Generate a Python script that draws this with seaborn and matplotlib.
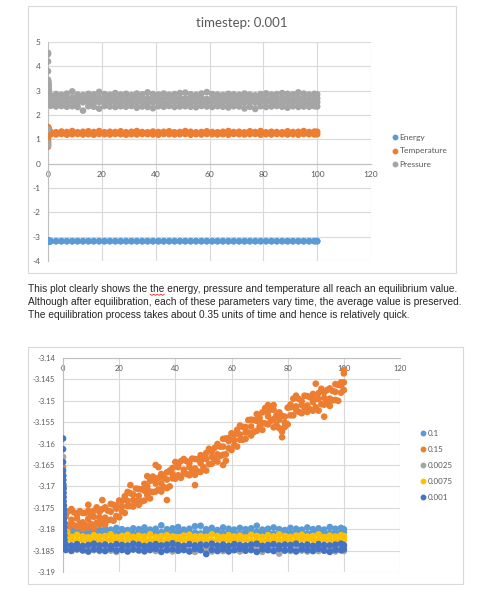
import numpy as np
import pandas as pd
import matplotlib
matplotlib.use("Agg")
import matplotlib.pyplot as plt
import seaborn as sns
from matplotlib.lines import Line2D
from matplotlib.patches import Rectangle

# ---------------- data ----------------
# time grids
T51 = list(range(1, 100, 2)) + [100]
T101 = list(range(0, 101))

# bottom chart: total energy vs time for 5 timesteps
t0_01 = [0, 0.2, 0.4]
e0_01 = [-3.1745, -3.1770, -3.1790]
b01_hi = [-3.1796, -3.1801, -3.1799, -3.1803, -3.1800, -3.1798, -3.1802, -3.1799, -3.1801, -3.1797,
          -3.1800, -3.1802, -3.1798, -3.1800, -3.1796, -3.1801, -3.1799, -3.1791, -3.1800, -3.1798,
          -3.1795, -3.1801, -3.1799, -3.1793, -3.1792, -3.1800, -3.1797, -3.1802, -3.1796, -3.1799,
          -3.1801, -3.1797, -3.1800, -3.1798, -3.1792, -3.1801, -3.1799, -3.1796, -3.1800, -3.1802,
          -3.1797, -3.1799, -3.1801, -3.1796, -3.1800, -3.1798, -3.1801, -3.1795, -3.1799, -3.1797,
          -3.1800]
b01_lo = [-3.1808, -3.1806, -3.1810, -3.1807, -3.1809, -3.1806, -3.1808, -3.1810, -3.1807, -3.1809,
          -3.1806, -3.1808, -3.1810, -3.1807, -3.1808, -3.1806, -3.1809, -3.1807, -3.1810, -3.1808,
          -3.1806, -3.1809, -3.1807, -3.1808, -3.1810, -3.1806, -3.1808, -3.1807, -3.1809, -3.1806,
          -3.1808, -3.1810, -3.1807, -3.1809, -3.1806, -3.1808, -3.1807, -3.1810, -3.1808, -3.1806,
          -3.1809, -3.1807, -3.1808, -3.1810, -3.1806, -3.1808, -3.1807, -3.1809, -3.1806, -3.1808,
          -3.1807]

t0_015 = [0, 0.1, 0.2]
e0_015 = [-3.1655, -3.1700, -3.1745]
b015_a = [-3.1756, -3.1764, -3.1758, -3.1753, -3.1761, -3.1766, -3.1758, -3.1762, -3.1762, -3.1757,
          -3.1768, -3.1757, -3.1749, -3.1760, -3.1753, -3.1749, -3.1757, -3.1741, -3.1743, -3.1745,
          -3.1733, -3.1734, -3.1723, -3.1713, -3.1716, -3.1719, -3.1705, -3.1706, -3.1707, -3.1694,
          -3.1700, -3.1687, -3.1677, -3.1683, -3.1680, -3.1671, -3.1680, -3.1667, -3.1663, -3.1657,
          -3.1643, -3.1649, -3.1641, -3.1636, -3.1641, -3.1646, -3.1635, -3.1636, -3.1637, -3.1627,
          -3.1635, -3.1622, -3.1612, -3.1618, -3.1610, -3.1601, -3.1607, -3.1589, -3.1588, -3.1587,
          -3.1576, -3.1579, -3.1568, -3.1558, -3.1561, -3.1561, -3.1545, -3.1544, -3.1545, -3.1531,
          -3.1540, -3.1527, -3.1517, -3.1526, -3.1520, -3.1521, -3.1534, -3.1527, -3.1535, -3.1537,
          -3.1516, -3.1509, -3.1495, -3.1488, -3.1496, -3.1501, -3.1488, -3.1489, -3.1492, -3.1484,
          -3.1495, -3.1482, -3.1472, -3.1480, -3.1475, -3.1471, -3.1477, -3.1461, -3.1463, -3.1457,
          -3.1436]
b015_b = [-3.1795, -3.1789, -3.1797, -3.1786, -3.1791, -3.1794, -3.1787, -3.1799, -3.1790, -3.1796,
          -3.1788, -3.1798, -3.1785, -3.1789, -3.1780, -3.1790, -3.1779, -3.1778, -3.1780, -3.1769,
          -3.1772, -3.1759, -3.1762, -3.1746, -3.1746, -3.1747, -3.1734, -3.1743, -3.1735, -3.1733,
          -3.1720, -3.1728, -3.1713, -3.1712, -3.1707, -3.1712, -3.1702, -3.1704, -3.1700, -3.1681,
          -3.1682, -3.1674, -3.1680, -3.1669, -3.1671, -3.1674, -3.1664, -3.1673, -3.1665, -3.1666,
          -3.1655, -3.1663, -3.1648, -3.1647, -3.1637, -3.1642, -3.1629, -3.1626, -3.1625, -3.1611,
          -3.1615, -3.1604, -3.1607, -3.1591, -3.1591, -3.1589, -3.1574, -3.1581, -3.1573, -3.1570,
          -3.1560, -3.1568, -3.1553, -3.1555, -3.1547, -3.1562, -3.1556, -3.1564, -3.1572, -3.1561,
          -3.1555, -3.1534, -3.1534, -3.1521, -3.1526, -3.1529, -3.1517, -3.1526, -3.1520, -3.1523,
          -3.1515, -3.1523, -3.1508, -3.1509, -3.1502, -3.1512, -3.1499, -3.1498, -3.1500, -3.1481,
          -3.1475]
b015_m = [-3.1770, -3.1778, -3.1775, -3.1784, -3.1776, -3.1771, -3.1773, -3.1773, -3.1759, -3.1752,
          -3.1747, -3.1734, -3.1732, -3.1722, -3.1710, -3.1712, -3.1693, -3.1693, -3.1684, -3.1671,
          -3.1655, -3.1661, -3.1655, -3.1658, -3.1646, -3.1636, -3.1631, -3.1625, -3.1607, -3.1594,
          -3.1592, -3.1579, -3.1574, -3.1560, -3.1547, -3.1552, -3.1536, -3.1543, -3.1544, -3.1551,
          -3.1515, -3.1513, -3.1510, -3.1511, -3.1503, -3.1496, -3.1493, -3.1495, -3.1479, -3.1464,
          -3.1457]
t_out_015 = [9, 14, 24, 30, 33, 34, 37, 47, 57, 58, 73, 75, 78, 90, 93, 100]
e_out_015 = [-3.1743, -3.1732, -3.1697, -3.1676, -3.1650, -3.1655, -3.1732, -3.1697,
             -3.1650, -3.1640, -3.1510, -3.1510, -3.1585, -3.1460, -3.1537, -3.1428]

t0_0025 = [0, 0.1, 0.2]
e0_0025 = [-3.1631, -3.1700, -3.1760]
b0025_hi = [-3.1840, -3.1842, -3.1839, -3.1841, -3.1843, -3.1840, -3.1838, -3.1842, -3.1841, -3.1839,
            -3.1843, -3.1840, -3.1842, -3.1839, -3.1841, -3.1840, -3.1843, -3.1838, -3.1841, -3.1842,
            -3.1840, -3.1839, -3.1843, -3.1841, -3.1840, -3.1842, -3.1838, -3.1841, -3.1843, -3.1840,
            -3.1839, -3.1842, -3.1841, -3.1840, -3.1843, -3.1839, -3.1841, -3.1842, -3.1840, -3.1838,
            -3.1841, -3.1843, -3.1840, -3.1842, -3.1839, -3.1841, -3.1840, -3.1843, -3.1841, -3.1839,
            -3.1840]
b0025_lo = [-3.1849, -3.1851, -3.1848, -3.1850, -3.1852, -3.1849, -3.1851, -3.1848, -3.1850, -3.1853,
            -3.1849, -3.1851, -3.1848, -3.1850, -3.1852, -3.1849, -3.1851, -3.1850, -3.1848, -3.1852,
            -3.1850, -3.1849, -3.1851, -3.1853, -3.1848, -3.1850, -3.1852, -3.1849, -3.1851, -3.1850,
            -3.1848, -3.1852, -3.1850, -3.1849, -3.1851, -3.1853, -3.1848, -3.1850, -3.1857, -3.1849,
            -3.1851, -3.1848, -3.1850, -3.1852, -3.1849, -3.1851, -3.1850, -3.1848, -3.1852, -3.1849,
            -3.1851]

t0_0075 = [0, 0.1, 0.2, 0.3, 0.5, 1.5]
e0_0075 = [-3.1668, -3.1705, -3.1745, -3.1780, -3.1805, -3.1807]
b0075_hi = [-3.1815, -3.1818, -3.1813, -3.1817, -3.1819, -3.1814, -3.1817, -3.1816, -3.1812, -3.1818,
            -3.1816, -3.1813, -3.1818, -3.1815, -3.1817, -3.1812, -3.1818, -3.1816, -3.1814, -3.1817,
            -3.1819, -3.1815, -3.1813, -3.1817, -3.1816, -3.1818, -3.1812, -3.1816, -3.1818, -3.1814,
            -3.1817, -3.1815, -3.1819, -3.1813, -3.1816, -3.1818, -3.1814, -3.1817, -3.1812, -3.1816,
            -3.1818, -3.1815, -3.1813, -3.1817, -3.1816, -3.1812, -3.1818, -3.1815, -3.1817, -3.1814,
            -3.1816]
b0075_lo = [-3.1826, -3.1824, -3.1827, -3.1825, -3.1828, -3.1824, -3.1826, -3.1827, -3.1825, -3.1826,
            -3.1828, -3.1824, -3.1826, -3.1825, -3.1827, -3.1826, -3.1824, -3.1828, -3.1825, -3.1826,
            -3.1827, -3.1825, -3.1824, -3.1826, -3.1828, -3.1825, -3.1827, -3.1824, -3.1826, -3.1825,
            -3.1827, -3.1826, -3.1824, -3.1828, -3.1825, -3.1826, -3.1827, -3.1824, -3.1826, -3.1825,
            -3.1828, -3.1826, -3.1824, -3.1827, -3.1825, -3.1826, -3.1824, -3.1827, -3.1825, -3.1826,
            -3.1825]

t0_001 = [0, 0, 0, 0, 0.1, 0.1, 0.1, 0.2, 0.2, 0.2, 0.2, 0.3, 0.3, 0.3, 0.3, 0.4, 0.4, 0.4, 0.5, 0.5, 0.6, 0.6]
e0_001 = [-3.1588, -3.1613, -3.1643, -3.1663, -3.1675, -3.1685, -3.1695, -3.1705, -3.1715, -3.1725, -3.1735,
          -3.1745, -3.1755, -3.1765, -3.1775, -3.1785, -3.1795, -3.1805, -3.1815, -3.1825, -3.1835, -3.1845]
b001_hi = [-3.1836, -3.1838, -3.1835, -3.1839, -3.1837, -3.1834, -3.1838, -3.1836, -3.1839, -3.1835,
           -3.1837, -3.1838, -3.1834, -3.1836, -3.1839, -3.1837, -3.1835, -3.1838, -3.1836, -3.1833,
           -3.1837, -3.1839, -3.1835, -3.1838, -3.1836, -3.1837, -3.1834, -3.1838, -3.1836, -3.1839,
           -3.1835, -3.1837, -3.1838, -3.1836, -3.1834, -3.1839, -3.1837, -3.1835, -3.1838, -3.1836,
           -3.1837, -3.1834, -3.1838, -3.1836, -3.1839, -3.1835, -3.1837, -3.1838, -3.1836, -3.1834,
           -3.1837]
b001_lo = [-3.1848, -3.1850, -3.1846, -3.1849, -3.1852, -3.1847, -3.1849, -3.1851, -3.1846, -3.1850,
           -3.1848, -3.1852, -3.1847, -3.1849, -3.1851, -3.1848, -3.1846, -3.1853, -3.1849, -3.1847,
           -3.1850, -3.1848, -3.1852, -3.1846, -3.1849, -3.1858, -3.1848, -3.1851, -3.1847, -3.1852,
           -3.1849, -3.1846, -3.1850, -3.1848, -3.1853, -3.1847, -3.1849, -3.1851, -3.1846, -3.1850,
           -3.1848, -3.1852, -3.1847, -3.1849, -3.1851, -3.1846, -3.1850, -3.1853, -3.1848, -3.1849,
           -3.1847]

# top chart: temperature and pressure for timestep 0.001
tT0 = [0, 0, 0, 0, 0, 0.1, 0.1, 0.2, 0.3]
temp0 = [0.70, 0.80, 0.90, 1.00, 1.10, 1.50, 1.45, 1.40, 1.35]
temp_a = [1.31, 1.29, 1.32, 1.30, 1.34, 1.29, 1.31, 1.33, 1.30, 1.34, 1.29, 1.31, 1.30, 1.33, 1.29, 1.31, 1.34,
          1.30, 1.29, 1.32, 1.30, 1.31, 1.33, 1.29, 1.30, 1.34, 1.31, 1.29, 1.30, 1.33, 1.30, 1.29, 1.31, 1.34,
          1.30, 1.31, 1.29, 1.33, 1.30, 1.34, 1.29, 1.31, 1.30, 1.29, 1.33, 1.30, 1.31, 1.34, 1.30, 1.32, 1.31]
temp_b = [1.21, 1.20, 1.22, 1.19, 1.21, 1.22, 1.20, 1.21, 1.19, 1.22, 1.21, 1.20, 1.22, 1.21, 1.19, 1.21, 1.20,
          1.22, 1.21, 1.20, 1.19, 1.22, 1.21, 1.20, 1.21, 1.22, 1.19, 1.21, 1.20, 1.22, 1.21, 1.20, 1.21, 1.19,
          1.22, 1.21, 1.20, 1.21, 1.22, 1.19, 1.21, 1.20, 1.22, 1.21, 1.20, 1.21, 1.19, 1.22, 1.21, 1.20, 1.21]

tP0 = [0, 0, 0, 0, 0, 0.05, 0.1, 0.1, 0.15, 0.2, 0.25, 0.3, 0.4, 0, 0, 0]
press0 = [4.55, 4.50, 4.20, 3.80, 3.45, 3.40, 3.35, 3.30, 3.25, 3.20, 3.10, 3.00, 2.90, 1.40, 0.85, 0.75]
press_1 = [2.80, 2.86, 2.83, 2.88, 2.97, 2.84, 2.82, 2.87, 2.85, 2.95, 2.86, 2.83, 2.90, 2.84, 2.87, 2.82, 2.88,
           2.85, 2.93, 2.86, 2.84, 2.88, 2.83, 2.86, 2.90, 2.92, 2.85, 2.83, 2.88, 2.94, 2.86, 2.84, 2.82, 2.87,
           2.85, 2.83, 2.88, 2.84, 2.81, 2.86, 2.89, 2.84, 2.86, 2.90, 2.87, 2.85, 2.93, 2.88, 2.84, 2.87, 2.85]
press_2 = [2.66, 2.70, 2.67, 2.69, 2.72, 2.65, 2.68, 2.70, 2.67, 2.71, 2.68, 2.66, 2.69, 2.70, 2.67, 2.68, 2.71,
           2.66, 2.69, 2.68, 2.70, 2.67, 2.69, 2.66, 2.70, 2.68, 2.67, 2.71, 2.69, 2.66, 2.68, 2.70, 2.67, 2.69,
           2.68, 2.66, 2.70, 2.67, 2.69, 2.71, 2.68, 2.66, 2.69, 2.70, 2.67, 2.68, 2.71, 2.69, 2.66, 2.70, 2.68]
press_3 = [2.52, 2.50, 2.54, 2.51, 2.53, 2.49, 2.52, 2.55, 2.50, 2.53, 2.51, 2.54, 2.52, 2.50, 2.53, 2.51, 2.52,
           2.54, 2.49, 2.52, 2.53, 2.50, 2.52, 2.54, 2.51, 2.53, 2.50, 2.52, 2.54, 2.51, 2.53, 2.50, 2.52, 2.51,
           2.54, 2.52, 2.50, 2.53, 2.51, 2.52, 2.54, 2.50, 2.53, 2.51, 2.52, 2.54, 2.51, 2.53, 2.50, 2.52, 2.53]
press_4 = [2.38, 2.35, 2.37, 2.34, 2.36, 2.33, 2.18, 2.36, 2.34, 2.26, 2.37, 2.35, 2.33, 2.36, 2.34, 2.37, 2.30,
           2.35, 2.33, 2.28, 2.36, 2.34, 2.37, 2.33, 2.35, 2.36, 2.34, 2.32, 2.37, 2.35, 2.33, 2.36, 2.34, 2.31,
           2.36, 2.35, 2.27, 2.34, 2.25, 2.36, 2.33, 2.35, 2.37, 2.34, 2.30, 2.36, 2.33, 2.35, 2.34, 2.36, 2.35]

top_labels = ["Energy", "Temperature", "Pressure"]
top_colors = ["#5B9BD5", "#ED7D31", "#A5A5A5"]
bot_labels = ["0.1", "0.15", "0.0025", "0.0075", "0.001"]
bot_colors = ["#5B9BD5", "#ED7D31", "#A5A5A5", "#FFC000", "#4472C4"]

paragraph = [
    "This plot clearly shows the the energy, pressure and temperature all reach an equilibrium value.",
    "Although after equilibration, each of these parameters vary time, the average value is preserved.",
    "The equilibration process takes about 0.35 units of time and hence is relatively quick.",
]


def block(name, t, v):
    return pd.DataFrame({"time": t, "value": v, "series": name})


top_df = pd.concat([
    block("Energy", t0_001 + T51 + T51, e0_001 + b001_hi + b001_lo),
    block("Temperature", tT0 + T51 + T51, temp0 + temp_a + temp_b),
    block("Pressure", tP0 + T51 * 4, press0 + press_1 + press_2 + press_3 + press_4),
], ignore_index=True)

bot_df = pd.concat([
    block("0.1", t0_01 + T51 + T51, e0_01 + b01_hi + b01_lo),
    block("0.15", t0_015 + T101 + T101 + T51 + t_out_015, e0_015 + b015_a + b015_b + b015_m + e_out_015),
    block("0.0025", t0_0025 + T51 + T51, e0_0025 + b0025_hi + b0025_lo),
    block("0.0075", t0_0075 + T51 + T51, e0_0075 + b0075_hi + b0075_lo),
    block("0.001", t0_001 + T51 + T51, e0_001 + b001_hi + b001_lo),
], ignore_index=True)

# ---------------- figure ----------------
sns.set_style("white")
plt.rcParams["font.family"] = ["Lato", "DejaVu Sans"]
plt.rcParams["axes.unicode_minus"] = False

W, H = 478, 599
fig = plt.figure(figsize=(W / 100, H / 100), dpi=100)
TXT = "#595959"
GRID = "#D9D9D9"
AXL = "#BFBFBF"
MS = 23


def px_box(x0, y0, x1, y1):
    return [x0 / W, 1 - y1 / H, (x1 - x0) / W, (y1 - y0) / H]


# chart frames
for (x0, y0, x1, y1) in [(28, 6, 456, 273), (28, 347, 463, 584)]:
    fig.add_artist(Rectangle((x0 / W, 1 - y1 / H), (x1 - x0) / W, (y1 - y0) / H,
                             transform=fig.transFigure, fill=False, ec=GRID, lw=0.8))


def style_axes(ax, fs, ycross):
    ax.grid(True, color=GRID, lw=0.8)
    ax.set_axisbelow(True)
    for s in ["top", "right"]:
        ax.spines[s].set_visible(False)
    ax.spines["left"].set_color(AXL)
    ax.spines["left"].set_linewidth(0.8)
    ax.spines["bottom"].set_position(("data", ycross))
    ax.spines["bottom"].set_color(AXL)
    ax.spines["bottom"].set_linewidth(0.8)
    ax.tick_params(length=0, labelsize=fs, labelcolor=TXT)
    ax.tick_params(axis="y", pad=5.5)
    ax.tick_params(axis="x", pad=5)
    ax.set_xlabel("")
    ax.set_ylabel("")
    for c in ax.collections:
        c.set_zorder(3)


# ---- top chart ----
ax1 = fig.add_axes(px_box(48, 42, 371, 261))
sns.scatterplot(data=top_df, x="time", y="value", hue="series", hue_order=top_labels,
                palette=dict(zip(top_labels, top_colors)), s=MS, linewidth=0, legend=False, ax=ax1)
ax1.set_xlim(0, 120)
ax1.set_ylim(-4, 5)
ax1.set_xticks(range(0, 121, 20))
ax1.set_yticks(range(-4, 6))
style_axes(ax1, 6, 0)
fig.text(242 / W, 1 - 23 / H, "timestep: 0.001", ha="center", va="center", fontsize=9.5, color=TXT)

h1 = [Line2D([], [], marker="o", ls="", color=c, markersize=3.2, label=l) for l, c in zip(top_labels, top_colors)]
ax1.legend(handles=h1, loc="center left", bbox_to_anchor=(393 / W, 1 - 151 / H), bbox_transform=fig.transFigure,
           frameon=False, fontsize=6, handlelength=0.5, handletextpad=0.3, labelspacing=0.75,
           borderpad=0, borderaxespad=0, labelcolor=TXT)

# ---- paragraph ----
para_kw = dict(ha="left", va="center", fontsize=7.3, family=["Liberation Sans", "DejaVu Sans"], color="#262626")
for i, line in enumerate(paragraph):
    fig.text(28 / W, 1 - (289 + 13 * i) / H, line, **para_kw)

# spell-check squiggle under the repeated "the": locate it from the rendered text width
renderer = fig.canvas.get_renderer()
probe_a = fig.text(0, 0, "This plot clearly shows the ", **para_kw)
probe_b = fig.text(0, 0, "This plot clearly shows the the", **para_kw)
xa = 28 + probe_a.get_window_extent(renderer).width
xb = 28 + probe_b.get_window_extent(renderer).width
probe_a.remove()
probe_b.remove()
n_zig = 9
sq_x = [xa + (xb - xa) * k / (n_zig - 1) for k in range(n_zig)]
sq_y = [294.2 + 1.2 * (k % 2) for k in range(n_zig)]
fig.add_artist(Line2D([x / W for x in sq_x], [1 - y / H for y in sq_y], transform=fig.transFigure,
                      color="#E03030", lw=0.6))

# ---- bottom chart ----
ax2 = fig.add_axes(px_box(63, 358, 400, 572))
sns.scatterplot(data=bot_df, x="time", y="value", hue="series", hue_order=bot_labels,
                palette=dict(zip(bot_labels, bot_colors)), s=MS, linewidth=0, legend=False, ax=ax2)
ax2.set_xlim(0, 120)
ax2.set_ylim(-3.19, -3.14)
ax2.set_xticks(range(0, 121, 20))
yt = [-3.19 + 0.005 * k for k in range(11)]
ax2.set_yticks(yt)
ax2.set_yticklabels([("%.3f" % v).rstrip("0") for v in yt])
style_axes(ax2, 5.5, -3.14)

h2 = [Line2D([], [], marker="o", ls="", color=c, markersize=3.2, label=l) for l, c in zip(bot_labels, bot_colors)]
ax2.legend(handles=h2, loc="center left", bbox_to_anchor=(421 / W, 1 - 465.5 / H), bbox_transform=fig.transFigure,
           frameon=False, fontsize=5.8, handlelength=0.5, handletextpad=0.3, labelspacing=1.1,
           borderpad=0, borderaxespad=0, labelcolor=TXT)

fig.savefig("out.png", dpi=100, facecolor="white")
